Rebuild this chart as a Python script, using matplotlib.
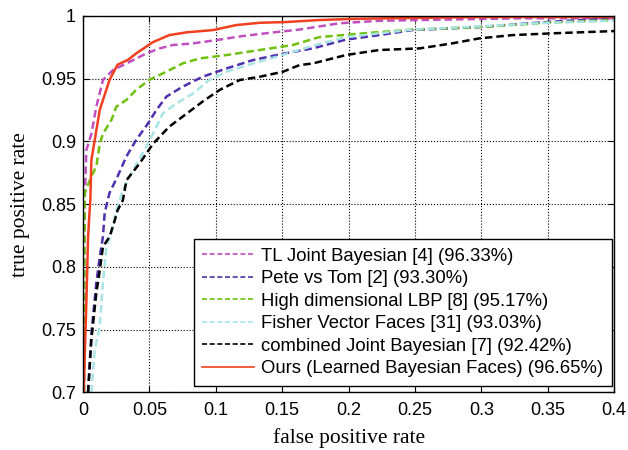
import numpy as np
import matplotlib
matplotlib.use('Agg')
import matplotlib.pyplot as plt

# ROC curves (false positive rate, true positive rate)
tl_x = [0.0008, 0.0008, 0.0013, 0.0025, 0.0063, 0.010, 0.015, 0.0226, 0.0327, 0.0477, 0.0577, 0.0677, 0.0828, 0.1004, 0.120, 0.1455, 0.163, 0.193, 0.223, 0.2735, 0.33, 0.4]
tl_y = [0.70, 0.80, 0.853, 0.893, 0.906, 0.9275, 0.9488, 0.9568, 0.962, 0.970, 0.974, 0.9767, 0.978, 0.9806, 0.9838, 0.987, 0.989, 0.994, 0.996, 0.997, 0.998, 0.998]

pete_x = [0.0038, 0.0063, 0.010, 0.0126, 0.015, 0.0163, 0.020, 0.026, 0.0327, 0.040, 0.049, 0.0553, 0.0628, 0.075, 0.090, 0.108, 0.128, 0.148, 0.173, 0.198, 0.2233, 0.248, 0.2986, 0.349, 0.4]
pete_y = [0.700, 0.747, 0.787, 0.808, 0.824, 0.843, 0.859, 0.872, 0.888, 0.901, 0.9143, 0.925, 0.9356, 0.9435, 0.9514, 0.958, 0.9647, 0.9692, 0.974, 0.981, 0.9846, 0.9886, 0.991, 0.995, 0.998]

lbp_x = [0.0008, 0.0010, 0.0013, 0.0063, 0.010, 0.0126, 0.015, 0.0214, 0.025, 0.0327, 0.040, 0.050, 0.0628, 0.075, 0.0878, 0.108, 0.133, 0.158, 0.178, 0.211, 0.248, 0.2986, 0.349, 0.4]
lbp_y = [0.70, 0.80, 0.859, 0.872, 0.880, 0.898, 0.906, 0.917, 0.9275, 0.933, 0.941, 0.949, 0.9555, 0.962, 0.966, 0.9687, 0.9727, 0.9767, 0.983, 0.986, 0.989, 0.991, 0.9944, 0.9966]

fv_x = [0.0063, 0.0088, 0.0126, 0.015, 0.0176, 0.0214, 0.025, 0.030, 0.0376, 0.0477, 0.0527, 0.060, 0.070, 0.0828, 0.095, 0.108, 0.128, 0.148, 0.173, 0.198, 0.223, 0.248, 0.2986, 0.349, 0.4]
fv_y = [0.700, 0.734, 0.7525, 0.787, 0.816, 0.827, 0.845, 0.861, 0.877, 0.8957, 0.906, 0.922, 0.930, 0.938, 0.9488, 0.9554, 0.962, 0.968, 0.976, 0.983, 0.986, 0.989, 0.9915, 0.9944, 0.9961]

cjb_x = [0.0038, 0.0063, 0.010, 0.0126, 0.015, 0.020, 0.0239, 0.026, 0.030, 0.0327, 0.0427, 0.0527, 0.065, 0.078, 0.090, 0.103, 0.118, 0.133, 0.1506, 0.163, 0.173, 0.198, 0.223, 0.2535, 0.278, 0.2986, 0.3235, 0.3536, 0.4]
cjb_y = [0.700, 0.742, 0.779, 0.797, 0.816, 0.824, 0.837, 0.845, 0.853, 0.869, 0.8825, 0.898, 0.9117, 0.922, 0.9316, 0.941, 0.9488, 0.9514, 0.9554, 0.9607, 0.962, 0.9687, 0.9727, 0.974, 0.978, 0.982, 0.9846, 0.986, 0.9878]

ours_x = [0.0005, 0.0013, 0.0025, 0.0038, 0.0045, 0.0055, 0.0063, 0.0126, 0.020, 0.026, 0.034, 0.040, 0.0527, 0.065, 0.078, 0.098, 0.1155, 0.133, 0.153, 0.178, 0.2, 0.231, 0.3, 0.4]
ours_y = [0.699, 0.7285, 0.771, 0.823, 0.837, 0.853, 0.885, 0.925, 0.949, 0.961, 0.965, 0.970, 0.979, 0.9846, 0.9868, 0.9886, 0.9926, 0.9944, 0.995, 0.9966, 0.9974, 0.998, 0.999, 0.999]

labels = ['TL Joint Bayesian [4] (96.33%)',
          'Pete vs Tom [2] (93.30%)',
          'High dimensional LBP [8] (95.17%)',
          'Fisher Vector Faces [31] (93.03%)',
          'combined Joint Bayesian [7] (92.42%)',
          'Ours (Learned Bayesian Faces) (96.65%)']

plt.rcParams['font.family'] = ['Liberation Sans', 'DejaVu Sans']

fig = plt.figure(figsize=(6.28, 4.5), dpi=100)
ax = fig.add_axes([0.1322, 0.128, 0.8458, 0.837])

dash = (0, (3, 1.6))
ax.plot(tl_x, tl_y, color='#c050c0', lw=1.8, ls=dash, label=labels[0])
ax.plot(pete_x, pete_y, color='#5030b0', lw=1.8, ls=dash, label=labels[1])
ax.plot(lbp_x, lbp_y, color='#70c010', lw=1.8, ls=dash, label=labels[2])
ax.plot(fv_x, fv_y, color='#a8e4e4', lw=1.8, ls=dash, label=labels[3])
ax.plot(cjb_x, cjb_y, color='black', lw=1.8, ls=dash, label=labels[4])
ax.plot(ours_x, ours_y, color='#f04020', lw=1.8, ls='-', label=labels[5])

ax.set_xlim(0, 0.4)
ax.set_ylim(0.7, 1.0)
ax.set_xticks(np.arange(0, 0.41, 0.05))
ax.set_xticklabels(['0', '0.05', '0.1', '0.15', '0.2', '0.25', '0.3', '0.35', '0.4'])
ax.set_yticks(np.arange(0.7, 1.001, 0.05))
ax.set_yticklabels(['0.7', '0.75', '0.8', '0.85', '0.9', '0.95', '1'])
ax.tick_params(direction='in', top=True, right=True, labelsize=13, length=4)
ax.tick_params(axis='x', pad=7)
ax.tick_params(axis='y', pad=5)
ax.grid(True, color='black', ls=':', lw=0.8)
for s in ax.spines.values():
    s.set_linewidth(1.0)

ax.set_xlabel('false positive rate', family='Liberation Serif', fontsize=15.5, labelpad=6.5)
ax.set_ylabel('true positive rate', family='Liberation Serif', fontsize=15.5, labelpad=8)

leg = ax.legend(loc='lower right', bbox_to_anchor=(0.995, 0.018), fontsize=13.3,
                frameon=True, fancybox=False, edgecolor='black', framealpha=1,
                borderaxespad=0, borderpad=0.45, handlelength=2.8,
                handletextpad=0.4, labelspacing=0.3)
leg.get_frame().set_linewidth(1.0)
for l in leg.get_lines():
    l.set_linewidth(1.2)

fig.savefig('out.png', dpi=100)
